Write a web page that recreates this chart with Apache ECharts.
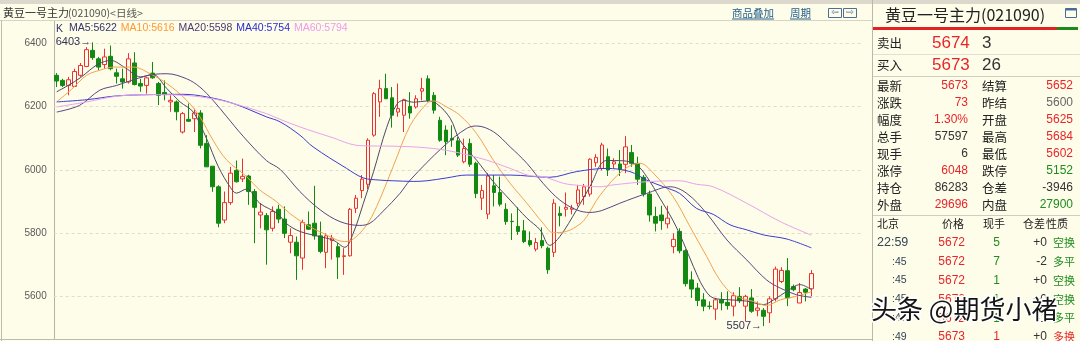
<!DOCTYPE html>
<html><head><meta charset="utf-8">
<script src="https://cdn.jsdelivr.net/npm/echarts@6/dist/echarts.min.js"></script>
<style>html,body{margin:0;padding:0;background:#fefdea;}#c{width:1080px;height:341px;}</style>
</head><body><div id="c"></div>
<script>
// ---- candle data (daily K line, 127 sessions) ----
const opens = [6299,6283,6267,6264,6299,6327,6378,6351,6333,6359,
6307,6288,6278,6338,6273,6267,6306,6273,6245,6215,
6215,6120,6160,6162,6180,6084,6012,5947,5842,5897,
5999,5972,5981,5932,5858,5856,5816,5876,5845,5772,
5772,5722,5827,5832,5792,5740,5777,5758,5727,5729,
5879,5935,5955,6110,6215,6257,6228,6183,6173,6201,
6199,6249,6288,6236,6157,6126,6100,6092,6026,6084,
6021,5911,5861,5950,5929,5876,5838,5822,5808,5777,
5750,5777,5753,5740,5863,5876,5876,5895,5916,5924,
6023,6005,6042,6019,6019,6018,6055,6021,5977,5924,
5853,5858,5830,5758,5806,5745,5653,5627,5590,5570,
5561,5590,5582,5570,5601,5570,5596,5557,5557,5549,
5593,5648,5682,5632,5580,5624,5625];
const closes = [6281,6267,6285,6311,6330,6380,6355,6325,6357,6320,
6296,6278,6351,6270,6265,6291,6291,6236,6238,6220,
6184,6178,6154,6180,6078,6010,5947,5832,5897,5990,
5963,5980,5932,5882,5867,5811,5869,5845,5800,5793,
5729,5834,5813,5792,5743,5792,5785,5725,5729,5876,
5911,5971,6094,6241,6257,6225,6173,6194,6222,6180,
6225,6257,6220,6189,6094,6089,6095,6047,6068,6018,
5926,5935,5981,5929,5892,5837,5837,5806,5774,5764,
5771,5761,5685,5895,5856,5882,5880,5937,5947,6034,
6040,6079,6000,6026,6002,6073,6021,5971,5924,5858,
5832,5840,5848,5781,5745,5641,5624,5588,5570,5569,
5590,5580,5572,5603,5587,5601,5554,5564,5538,5593,
5687,5683,5596,5622,5613,5614,5673];
const lows = [6262,6262,6236,6262,6294,6325,6348,6315,6320,6315,
6273,6257,6273,6267,6247,6241,6288,6205,6220,6184,
6157,6115,6152,6120,6068,6010,5931,5819,5832,5890,
5960,5962,5890,5769,5816,5701,5806,5832,5785,5737,
5653,5685,5811,5780,5737,5690,5717,5656,5669,5727,
5864,5911,5940,6105,6168,6225,6134,6168,6120,6162,
6194,6220,6215,6178,6089,6047,6073,6041,6021,6010,
5911,5874,5845,5885,5885,5827,5779,5795,5769,5758,
5743,5753,5672,5725,5822,5853,5860,5885,5890,5916,
6010,5999,5981,6005,5981,5990,6010,5953,5916,5837,
5806,5811,5816,5737,5737,5632,5596,5570,5554,5560,
5527,5557,5559,5538,5580,5522,5549,5538,5507,5517,
5585,5643,5570,5617,5580,5585,5602];
const highs = [6306,6288,6294,6320,6338,6388,6403,6357,6383,6393,
6320,6320,6369,6372,6288,6294,6341,6278,6283,6236,
6220,6183,6210,6194,6189,6110,6012,5952,5932,6010,
6030,6036,5985,5940,5895,5864,5885,5890,5885,5816,
5790,5843,5869,5950,5837,5800,5795,5769,5753,5880,
5921,5984,6100,6246,6285,6304,6262,6273,6225,6246,
6236,6291,6299,6246,6168,6141,6141,6104,6099,6099,
6026,5953,5990,5984,5979,5895,5863,5882,5842,5806,
5785,5819,5758,5908,5885,5929,5890,5953,5956,6037,
6050,6086,6068,6037,6063,6107,6079,6042,5984,5935,
5884,5887,5887,5800,5816,5750,5680,5643,5611,5585,
5596,5614,5617,5614,5630,5606,5624,5585,5564,5601,
5695,5693,5722,5638,5643,5627,5684];
const categories = opens.map((_, i) => 'D' + (i + 1));
const padCategories = ['', '', '', '', '', '', '', ''];

// ---- moving averages: [session position, value] ----
const ma5 = [[0,6247],[2,6268],[4,6292],[5.5,6315],[7,6335],[9,6346],[11.5,6322],[14,6294],[16,6302],[18.4,6257],[20.6,6215],[22.8,6183],[25,6100],[27,6010],[29,5945],[30,5927],[31.7,5940],[33.9,5895],[36.9,5862],[38.4,5830],[40.6,5806],[43.4,5792],[46.2,5778],[48.1,5756],[49.5,5800],[51.2,5895],[52.9,5995],[55.1,6135],[56.8,6208],[57.9,6220],[59.6,6214],[61.8,6218],[63.4,6210],[65.7,6163],[67.3,6094],[70.1,6031],[72.9,5963],[75.7,5905],[78.5,5848],[80.7,5811],[82.3,5762],[84,5790],[86.8,5874],[89,5947],[91.8,6030],[94.6,6029],[96.8,6016],[98.5,5979],[100.7,5911],[102.9,5840],[104.6,5772],[106.3,5695],[108,5628],[109.6,5596],[112.4,5590],[115.2,5586],[118,5575],[119.7,5590],[121.9,5617],[124.1,5638],[126,5622]];
const ma10 = [[0,6215],[2.5,6255],[5,6299],[7.2,6315],[9.5,6325],[12.8,6325],[15.6,6304],[18.4,6273],[21.7,6220],[23.9,6168],[26.1,6094],[28.4,6031],[31.7,5979],[33.9,5937],[36.7,5900],[38.9,5863],[41.7,5827],[44.5,5800],[48.1,5774],[49.5,5782],[51.7,5825],[53.4,5884],[56.2,6012],[59,6140],[61.8,6210],[62.9,6218],[65.1,6199],[67.3,6173],[70.1,6115],[72.9,6031],[75.7,5958],[78.5,5895],[81.2,5832],[82.9,5802],[85.1,5806],[87.4,5830],[88.5,5853],[90.7,5920],[94.6,6000],[97.4,6021],[99.6,5990],[102.9,5916],[105.7,5822],[108.5,5727],[110.7,5653],[113,5606],[116.3,5585],[118.5,5572],[120.8,5590],[123.5,5601],[126,5616]];
const ma20 = [[0,6183],[3.8,6204],[7.2,6252],[10,6267],[12.8,6285],[16.2,6302],[18.4,6304],[21.7,6288],[23.9,6262],[26.1,6220],[28.4,6168],[31.2,6105],[35,6030],[37.3,6002],[40.6,5932],[44,5874],[47.3,5837],[50.6,5825],[52.3,5832],[54.5,5870],[57.3,5926],[59,5968],[64.5,6073],[68.4,6131],[70.1,6139],[72.9,6121],[75.7,6073],[78.5,6021],[81.2,5958],[84,5905],[86.8,5874],[89,5866],[91,5872],[94,5895],[98.5,5926],[102.4,5947],[105.2,5926],[108.5,5863],[111.9,5779],[115.2,5716],[118.5,5653],[120.8,5627],[123.5,5606],[126,5598]];
const ma40 = [[0,6215],[5,6222],[10,6234],[15.6,6238],[21.1,6239],[25,6231],[29.5,6210],[35,6168],[37.3,6152],[40.6,6110],[42.8,6073],[48.4,6005],[51.2,5975],[54,5968],[56.2,5966],[59.5,5964],[61.8,5966],[65.1,5975],[68.4,5984],[75.7,5984],[82.3,5977],[86.8,5995],[91.8,6005],[95.7,5995],[98.5,5968],[101.3,5947],[104,5926],[106.8,5879],[109.6,5860],[112.4,5827],[115.2,5811],[118,5795],[121.9,5782],[126,5754]];
const ma60 = [[0,6199],[5,6215],[10,6233],[15.6,6238],[21.1,6236],[26.1,6225],[29.5,6210],[35,6178],[37.3,6160],[40.6,6136],[45.6,6105],[50.6,6077],[56.5,6075],[61.8,6070],[66.2,6058],[71.8,6031],[75.7,6005],[79,5982],[81.2,5979],[84.6,5958],[86.8,5952],[90.7,5947],[92.9,5953],[98.5,5963],[104,5966],[106.8,5955],[109.6,5947],[115.2,5895],[120.8,5837],[126,5794]];
const maNames = ['MA5', 'MA10', 'MA20', 'MA40', 'MA60'];
const maSeries = [ma5, ma10, ma20, ma40, ma60];
const maLineColors = ['#4a4a60', '#f2a24e', '#5a4682', '#3b3bd0', '#eaa2ea'];
const maTextColors = ['#333366', '#ff9933', '#4a3a70', '#2a2acc', '#ee99ee'];
const yTicks = [5400, 6600, 200];

// ---- quote panel ----
const panelTitle = '黄豆一号主力(021090)';
const askBid = [['卖出', '5674', '3'], ['买入', '5673', '26']];
const quoteRows = [
  ['最新', '5673', 'r', '结算', '5652', 'r'],
  ['涨跌', '73', 'r', '昨结', '5600', 'g0'],
  ['幅度', '1.30%', 'r', '开盘', '5625', 'r'],
  ['总手', '57597', 'd', '最高', '5684', 'r'],
  ['现手', '6', 'd', '最低', '5602', 'r'],
  ['涨停', '6048', 'r', '跌停', '5152', 'g'],
  ['持仓', '86283', 'd', '仓差', '-3946', 'd'],
  ['外盘', '29696', 'r', '内盘', '27900', 'g']
];
const tickHeader = ['北京', '价格', '现手', '仓差', '性质'];
const tickRows = [
  ['22:59', '5672', '5', '+0', '空换', 'g'],
  [':45', '5672', '7', '-2', '多平', 'g'],
  [':45', '5672', '1', '+0', '空换', 'g'],
  [':45', '5672', '1', '+0', '空换', 'g'],
  [':47', '5672', '1', '-1', '多平', 'g'],
  [':49', '5673', '1', '+0', '多换', 'r']
];
const COL = {r: '#e8262a', g: '#1e8c1e', d: '#333333', g0: '#666666'};
const CJK = 'Noto Sans CJK SC', NUM = 'Liberation Sans';

const G = [];
function T(x, y, s, fill, size, fam, align, extra) {
  G.push(Object.assign({type: 'text', x: x, y: y, silent: true,
    style: {text: s, fill: fill, fontSize: size, fontFamily: fam, align: align || 'left', verticalAlign: 'middle'}}, extra || {}));
}
function L(x1, y1, x2, y2, c, w) {
  G.push({type: 'line', silent: true, shape: {x1: x1, y1: y1, x2: x2, y2: y2}, style: {stroke: c, lineWidth: w || 1}});
}
function R(x, y, w, h, fill, stroke) {
  G.push({type: 'rect', silent: true, shape: {x: x, y: y, width: w, height: h}, style: {fill: fill || 'none', stroke: stroke || 'none', lineWidth: 1}});
}
// top toolbar strip & header
R(0, 0, 1080, 4, '#dcd9cc');
L(0, 20.5, 872, 20.5, '#d6d4c4');
L(1.5, 20, 1.5, 341, '#bdbcae');
L(54.5, 21, 54.5, 339, '#b4b3a4');
L(0, 339.5, 872, 339.5, '#bdbcae');
T(3, 13, '黄豆一号主力', '#333333', 11, CJK);
T(68, 13, '(021090)<日线>', '#555555', 10.5, CJK);
T(732, 13, '商品叠加', '#245e8e', 10.5, CJK); L(732, 19, 774, 19, '#245e8e');
T(790, 13, '周期', '#245e8e', 10.5, CJK); L(790, 19, 811, 19, '#245e8e');
R(828.5, 8.5, 13, 9, 'none', '#4d6e96'); T(835, 13, '⇦', '#4d6e96', 9, 'DejaVu Sans', 'center');
R(843.5, 8.5, 13, 9, 'none', '#4d6e96'); T(850, 13, '⇨', '#4d6e96', 9, 'DejaVu Sans', 'center');
T(56, 29, 'K', '#333366', 10.5, NUM);
// right panel
L(872.5, 0, 872.5, 341, '#b9b8aa');
T(885, 15, panelTitle, '#222222', 16, CJK);
R(1065.5, 8.5, 11, 9, 'none', '#4a6a9a'); L(1066, 9.5, 1076, 9.5, '#4a6a9a', 2);
R(873, 27, 184, 3, '#e02222'); R(1057, 27, 21, 3, '#1e8a1e');
askBid.forEach((r, i) => {
  const y = 43 + i * 22;
  T(877, y, r[0], '#222222', 12.5, CJK);
  T(932, y, r[1], COL.r, 17, NUM);
  T(982, y, r[2], '#333333', 17, NUM);
});
L(873, 54.5, 1080, 54.5, '#e2e0d0');
L(873, 76.5, 1080, 76.5, '#cfcdbf');
quoteRows.forEach((r, i) => {
  const y = 86 + i * 17;
  T(877, y, r[0], '#222222', 12.5, CJK);
  T(968, y, r[1], COL[r[2]], 12, NUM, 'right');
  T(982, y, r[3], '#222222', 12.5, CJK);
  T(1073, y, r[4], COL[r[5]], 12, NUM, 'right');
});
L(873, 215.5, 1080, 215.5, '#cfcdbf');
[877, 942, 983, 1023, 1046].forEach((x, i) => T(x, 224, tickHeader[i], '#222222', 11, CJK));
tickRows.forEach((r, i) => {
  const y = 243 + i * 18.8;
  const isFull = r[0].length > 3;
  T(isFull ? 877 : 892, y, r[0], '#334455', isFull ? 12.5 : 10.5, NUM);
  T(965, y, r[1], COL.r, 12, NUM, 'right');
  T(1000, y, r[2], COL[r[5]], 12, NUM, 'right');
  T(1047, y, r[3], '#333333', 12, NUM, 'right');
  T(1053, y, r[4], COL[r[5]], 11, CJK);
});
// watermark
G.push({type: 'text', x: 871, y: 309, z: 100, silent: true,
  style: {text: '头条 @期货小褚', fill: '#151515', fontSize: 26, fontFamily: CJK, align: 'left', verticalAlign: 'middle', stroke: '#ffffff', lineWidth: 3}});

// extremes for the high / low markers
let iMax = 0, iMin = 0;
highs.forEach((v, i) => { if (v > highs[iMax]) iMax = i; });
lows.forEach((v, i) => { if (v < lows[iMin]) iMin = i; });

const nCat = categories.length + padCategories.length;
const chart = echarts.init(document.getElementById('c'), null, {renderer: 'canvas'});
const series = [{
  type: 'candlestick', name: 'K',
  xAxisIndex: 0, yAxisIndex: 0, barWidth: 4,
  data: categories.map((c, i) => [opens[i], closes[i], lows[i], highs[i]]),
  itemStyle: {color: '#fefdea', color0: '#128a12', borderColor: '#ee3030', borderColor0: '#128a12', borderWidth: 1},
  markPoint: {
    symbol: 'circle', symbolSize: 1, itemStyle: {color: 'rgba(0,0,0,0)'},
    label: {show: true, position: 'left', distance: 1, color: '#333355', fontSize: 11, fontFamily: NUM,
      formatter: p => p.value + '→'},
    data: [
      {coord: [categories[iMax], highs[iMax]], value: highs[iMax]},
      {coord: [categories[iMin], lows[iMin]], value: lows[iMin]}
    ]
  },
  z: 3
}];
maSeries.forEach((d, k) => series.push({
  type: 'line', name: maNames[k], xAxisIndex: 1, yAxisIndex: 0, data: d,
  smooth: 0.35, symbol: 'none', lineStyle: {color: maLineColors[k], width: 1},
  itemStyle: {color: maLineColors[k]}, z: 4
}));

chart.setOption({
  animation: false,
  backgroundColor: '#fefdea',
  grid: {left: 53.7, right: 1080 - 53.7 - nCat * 5.99, top: -20, bottom: -19, containLabel: false, outerBoundsMode: 'none'},
  legend: {
    left: 64, top: 23, padding: 0, icon: 'none', itemWidth: 0, itemHeight: 8, itemGap: -1, selectedMode: false,
    textStyle: {fontSize: 10.5, fontFamily: NUM},
    data: maNames.map((n, k) => ({name: n, textStyle: {color: maTextColors[k]}})),
    formatter: n => { const d = maSeries[maNames.indexOf(n)]; return n + ':' + d[d.length - 1][1]; }
  },
  xAxis: [
    {type: 'category', data: categories.concat(padCategories), boundaryGap: true,
      axisLine: {show: false}, axisTick: {show: false}, axisLabel: {show: false}, splitLine: {show: false}},
    {type: 'value', min: -0.5, max: nCat - 0.5, show: false}
  ],
  yAxis: [{
    type: 'value', min: yTicks[0], max: yTicks[1], interval: yTicks[2],
    axisLine: {show: false}, axisTick: {show: false},
    axisLabel: {color: '#5a5a5a', fontSize: 10, fontFamily: NUM, margin: 7, formatter: v => String(v)},
    splitLine: {lineStyle: {color: '#e0ddc6', type: [3, 3], width: 1}}
  }],
  series: series,
  graphic: {elements: G}
});
</script></body></html>
